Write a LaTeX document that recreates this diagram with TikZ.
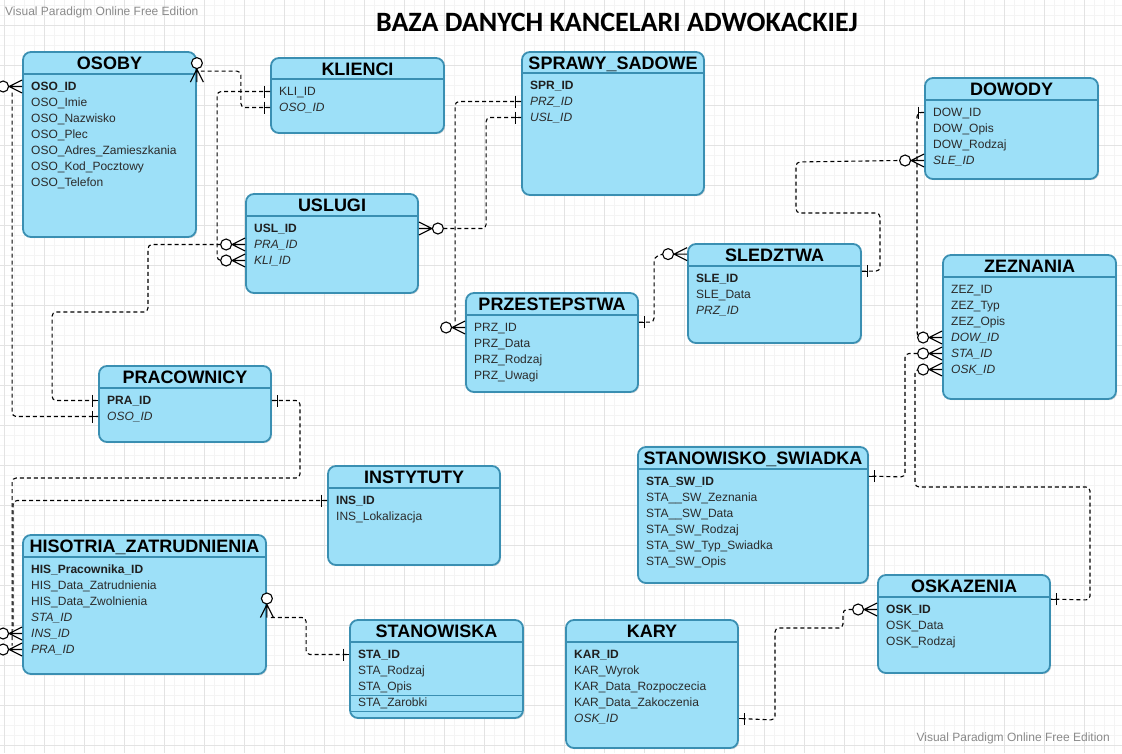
\documentclass[tikz,border=0pt]{standalone}
\usepackage{fontspec}
\setmainfont{Liberation Sans}
\newfontfamily\titlefont{Carlito}
\usetikzlibrary{calc,fit,shadows}
\definecolor{boxfill}{HTML}{9DE0F8}
\definecolor{boxline}{HTML}{3A8FB2}
\definecolor{gridmaj}{HTML}{E3E3E3}
\definecolor{gridmin}{HTML}{F4F4F4}
\definecolor{wmark}{HTML}{8A8A8A}
\definecolor{rowtxt}{HTML}{2B2B2B}
\tikzset{
 tbl/.style={draw=boxline, line width=1.8pt, fill=boxfill, rounded corners=8pt, inner sep=0pt,
   drop shadow={shadow xshift=1.2pt, shadow yshift=-1.2pt, opacity=0.25}},
 divline/.style={draw=boxline, line width=1.3pt},
 ttl/.style={font=\fontsize{18}{20}\selectfont\bfseries, text=black, inner sep=0pt, text height=12.9pt, text depth=0pt},
 pk/.style={font=\fontsize{12}{14}\selectfont\bfseries, text=black!88, inner sep=0pt, anchor=west, text height=8.6pt, text depth=0pt},
 attr/.style={font=\fontsize{12}{14}\selectfont, text=rowtxt, inner sep=0pt, anchor=west, text height=8.6pt, text depth=0pt},
 fk/.style={font=\fontsize{12}{14}\selectfont\itshape, text=rowtxt, inner sep=0pt, anchor=west, text height=8.6pt, text depth=0pt},
 rel/.style={draw=black, line width=1.1pt, dash pattern=on 4pt off 3pt, rounded corners=4pt},
 wm/.style={font=\fontsize{12}{14}\selectfont, text=wmark, inner sep=0pt},
 zmany/.pic={\draw[line width=1.1pt] (0pt,-6.5pt) -- (13pt,0pt) -- (0pt,6.5pt) (0pt,0pt) -- (13pt,0pt);
   \draw[line width=1.1pt, fill=white] (19pt,0pt) circle (5.5pt);},
 onebar/.pic={\draw[line width=1.1pt] (6pt,-6pt) -- (6pt,6pt) (0pt,0pt) -- (6pt,0pt);},
}
\newcommand\erent[8]{%
 \node[tbl, fit={(#2,#3) (#4,#5)}] (#1) {};
 \draw[divline] (#2,#6) -- (#4,#6);
 \node[ttl] (#1-t) at ({(#2+#4)/2},{(#3+#6)/2+0.5}) {#7};
 \foreach[count=\i] \rsty/\rtxt in {#8}{\node[\rsty] (#1-\i) at ({#2+8},{#6+12.5+16*(\i-1)}) {\rtxt};}
}
\begin{document}
\begin{tikzpicture}[x=1pt,y=-1pt]
\useasboundingbox (0,0) rectangle (1122,753);
\fill[white] (0,0) rectangle (1122,753);
\foreach \gx in {4,14,...,1124} \draw[gridmin, line width=1pt] (\gx,0) -- (\gx,753);
\foreach \gy in {5,15,...,753} \draw[gridmin, line width=1pt] (0,\gy) -- (1122,\gy);
\foreach \gx in {4,44,...,1124} \draw[gridmaj, line width=1pt] (\gx,0) -- (\gx,753);
\foreach \gy in {25,65,...,753} \draw[gridmaj, line width=1pt] (0,\gy) -- (1122,\gy);

\node[wm, anchor=west] (wm1) at (5,12) {Visual Paradigm Online Free Edition};
\node[wm, anchor=east] (wm2) at (1110,738) {Visual Paradigm Online Free Edition};
\node[inner sep=0pt] (title) at (617,22) {\titlefont\bfseries\fontsize{28}{30}\selectfont BAZA DANYCH KANCELARI ADWOKACKIEJ};

% entities
\erent{osoby}{23}{52}{196}{237}{74}{OSOBY}{pk/OSO\_ID, attr/OSO\_Imie, attr/OSO\_Nazwisko, attr/OSO\_Plec, attr/OSO\_Adres\_Zamieszkania, attr/OSO\_Kod\_Pocztowy, attr/OSO\_Telefon}
\erent{klienci}{271}{58}{444}{133}{79}{KLIENCI}{attr/KLI\_ID, fk/OSO\_ID}
\erent{sprawy}{522}{52}{704}{195}{73}{SPRAWY\_SADOWE}{pk/SPR\_ID, fk/PRZ\_ID, fk/USL\_ID}
\erent{dowody}{925}{78}{1098}{179}{100}{DOWODY}{attr/DOW\_ID, attr/DOW\_Opis, attr/DOW\_Rodzaj, fk/SLE\_ID}
\erent{uslugi}{246}{194}{418}{293}{216}{USLUGI}{pk/USL\_ID, fk/PRA\_ID, fk/KLI\_ID}
\erent{sledztwa}{688}{244}{861}{343}{266}{SLEDZTWA}{pk/SLE\_ID, attr/SLE\_Data, fk/PRZ\_ID}
\erent{zeznania}{943}{255}{1116}{399}{277}{ZEZNANIA}{attr/ZEZ\_ID, attr/ZEZ\_Typ, attr/ZEZ\_Opis, fk/DOW\_ID, fk/STA\_ID, fk/OSK\_ID}
\erent{przestepstwa}{466}{293}{638}{392}{315}{PRZESTEPSTWA}{attr/PRZ\_ID, attr/PRZ\_Data, attr/PRZ\_Rodzaj, attr/PRZ\_Uwagi}
\erent{pracownicy}{99}{366}{271}{442}{388}{PRACOWNICY}{pk/PRA\_ID, fk/OSO\_ID}
\erent{instytuty}{328}{466}{500}{565}{488}{INSTYTUTY}{pk/INS\_ID, attr/INS\_Lokalizacja}
\erent{stsw}{638}{447}{868}{583}{469}{STANOWISKO\_SWIADKA}{pk/STA\_SW\_ID, attr/STA\_\_SW\_Zeznania, attr/STA\_\_SW\_Data, attr/STA\_SW\_Rodzaj, attr/STA\_SW\_Typ\_Swiadka, attr/STA\_SW\_Opis}
\erent{historia}{23}{535}{266}{674}{557}{HISOTRIA\_ZATRUDNIENIA}{pk/HIS\_Pracownika\_ID, attr/HIS\_Data\_Zatrudnienia, attr/HIS\_Data\_Zwolnienia, fk/STA\_ID, fk/INS\_ID, fk/PRA\_ID}
\erent{oskazenia}{878}{575}{1050}{673}{597}{OSKAZENIA}{pk/OSK\_ID, attr/OSK\_Data, attr/OSK\_Rodzaj}
\erent{stanowiska}{350}{620}{523}{718}{642}{STANOWISKA}{pk/STA\_ID, attr/STA\_Rodzaj, attr/STA\_Opis, attr/STA\_Zarobki}
\erent{kary}{566}{620}{738}{748}{642}{KARY}{pk/KAR\_ID, attr/KAR\_Wyrok, attr/KAR\_Data\_Rozpoczecia, attr/KAR\_Data\_Zakoczenia, fk/OSK\_ID}
\draw[boxline, line width=1pt] (351,695) -- (522,695) (351,711) -- (522,711);

% connectors
% C1 osoby -> pracownicy.OSO_ID
\draw[rel] ($(osoby.west |- osoby-1)+(-10,6)$) |- (pracownicy.west |- pracownicy-2);
\pic[rotate=180] at (osoby.west |- osoby-1) {zmany};
\pic[rotate=180] at (pracownicy.west |- pracownicy-2) {onebar};
% C2 klienci.OSO_ID -> osoby
\draw[rel] (klienci.west |- klienci-2) -| ($(osoby.north east)+(44,20)$) -- ($(osoby.north east)+(4,20)$);
\pic[rotate=90] at ($(osoby.north east)+(0,31)$) {zmany};
\pic[rotate=180] at (klienci.west |- klienci-2) {onebar};
% C3 klienci.KLI_ID -> uslugi.KLI_ID
\draw[rel] (klienci.west |- klienci-1) -| ($(uslugi.west |- uslugi-3)+(-28,0)$) -- ($(uslugi.west |- uslugi-3)+(-24.5,0)$);
\pic[rotate=180] at (klienci.west |- klienci-1) {onebar};
\pic[rotate=180] at (uslugi.west |- uslugi-3) {zmany};
% C4 uslugi.PRA_ID -> pracownicy.PRA_ID
\draw[rel] ($(uslugi.west |- uslugi-2)+(-24.5,0)$) -| (148,312) -| ($(pracownicy.west |- pracownicy-1)+(-46,0)$) -- (pracownicy.west |- pracownicy-1);
\pic[rotate=180] at (uslugi.west |- uslugi-2) {zmany};
\pic[rotate=180] at (pracownicy.west |- pracownicy-1) {onebar};
% C5 uslugi -> sprawy.USL_ID
\draw[rel] ($(uslugi.east |- uslugi-1)+(24.5,0)$) -| ($(sprawy.west |- sprawy-3)+(-35,0)$) -- (sprawy.west |- sprawy-3);
\pic at (uslugi.east |- uslugi-1) {zmany};
\pic[rotate=180] at (sprawy.west |- sprawy-3) {onebar};
% C6 sprawy.PRZ_ID -> przestepstwa
\draw[rel] (sprawy.west |- sprawy-2) -| ($(przestepstwa.west |- przestepstwa-1)+(-10,-6)$);
\pic[rotate=180] at (sprawy.west |- sprawy-2) {onebar};
\pic[rotate=180] at (przestepstwa.west |- przestepstwa-1) {zmany};
% C7 przestepstwa -> sledztwa
\draw[rel] ($(przestepstwa.north east)+(0,30)$) -| ($(sledztwa.north west)+(-33,14)$) -- ($(sledztwa.north west)+(-24.5,11)$);
\pic at ($(przestepstwa.north east)+(0,30)$) {onebar};
\pic[rotate=180] at ($(sledztwa.north west)+(0,11)$) {zmany};
% C8 sledztwa -> dowody.SLE_ID
\draw[rel] ($(sledztwa.north east)+(0,28)$) -| (880,213) -| (796,162) -- ($(dowody.west |- dowody-4)+(-24.5,0)$);
\pic at ($(sledztwa.north east)+(0,28)$) {onebar};
\pic[rotate=180] at (dowody.west |- dowody-4) {zmany};
% C9 dowody.DOW_ID -> zeznania.DOW_ID
\draw[rel] (dowody.west |- dowody-1) -| (917,331) -- ($(zeznania.west |- zeznania-4)+(-24.5,0)$);
\pic[rotate=180] at (dowody.west |- dowody-1) {onebar};
\pic[rotate=180] at (zeznania.west |- zeznania-4) {zmany};
% C10 zeznania.STA_ID -> stanowisko_swiadka
\draw[rel] ($(zeznania.west |- zeznania-5)+(-24.5,0)$) -| (905,477) -- ($(stsw.north east)+(0,30)$);
\pic[rotate=180] at (zeznania.west |- zeznania-5) {zmany};
\pic at ($(stsw.north east)+(0,30)$) {onebar};
% C11 zeznania.OSK_ID -> oskazenia
\draw[rel] ($(zeznania.west |- zeznania-6)+(-24.5,0)$) -| (915,487) -| (1090,600) -- ($(oskazenia.north east)+(0,25)$);
\pic[rotate=180] at (zeznania.west |- zeznania-6) {zmany};
\pic at ($(oskazenia.north east)+(0,25)$) {onebar};
% C12 oskazenia.OSK_ID -> kary.OSK_ID
\draw[rel] ($(oskazenia.west |- oskazenia-1)+(-24.5,0)$) -| (843,628) -| (775,720) -- (kary.east |- kary-5);
\pic[rotate=180] at (oskazenia.west |- oskazenia-1) {zmany};
\pic at (kary.east |- kary-5) {onebar};
% C13 pracownicy -> historia.PRA_ID
\draw[rel] (pracownicy.east |- pracownicy-1) -| (300,478) -| ($(historia.west |- historia-6)+(-10,-4)$);
\pic at (pracownicy.east |- pracownicy-1) {onebar};
\pic[rotate=180] at (historia.west |- historia-6) {zmany};
% C14 instytuty.INS_ID -> historia.INS_ID
\draw[rel] (instytuty.west |- instytuty-1) -| ($(historia.west |- historia-5)+(-9,-4)$);
\pic[rotate=180] at (instytuty.west |- instytuty-1) {onebar};
\pic[rotate=180] at (historia.west |- historia-5) {zmany};
% C15 historia -> stanowiska.STA_ID
\draw[rel] ($(historia.east |- historia-4)+(4,0)$) -| ($(stanowiska.west |- stanowiska-1)+(-43,0)$) -- (stanowiska.west |- stanowiska-1);
\pic[rotate=90] at (historia.east |- historia-4) {zmany};
\pic[rotate=180] at (stanowiska.west |- stanowiska-1) {onebar};
\end{tikzpicture}
\end{document}
